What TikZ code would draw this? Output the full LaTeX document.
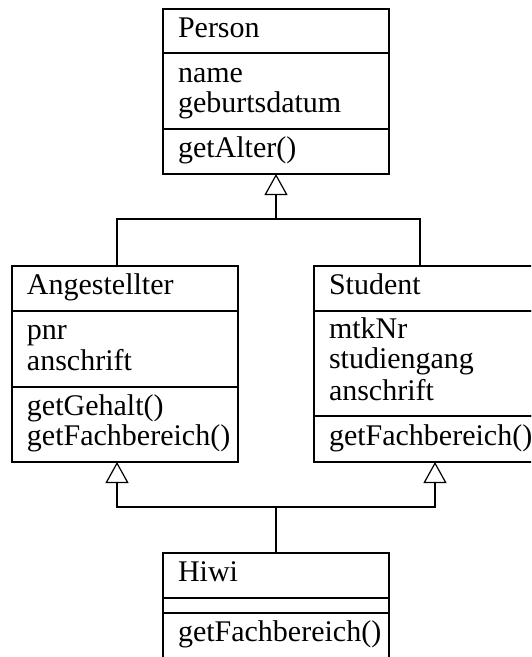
\documentclass[tikz,border=0pt]{standalone}
\usepackage{fontspec}
\setmainfont{Liberation Serif}
\usetikzlibrary{arrows.meta}
\begin{document}
\begin{tikzpicture}[x=1pt,y=-1pt,
  compbox/.style={draw, line width=1.2pt, anchor=north west, outer sep=0pt,
    minimum width=226pt, text width=196pt, inner xsep=15pt, inner ysep=0pt,
    align=left, font=\fontsize{30}{30}\selectfont},
  link/.style={draw, line width=1.2pt},
  gen/.style={link, -{Triangle[open, length=21pt, width=23pt, line width=1.2pt]}}]
\useasboundingbox (0,0) rectangle (531,657);
\fill[white] (0,0) rectangle (531,657);
\clip (0,0) rectangle (531,657);

% Person
\node[compbox, minimum height=44pt] (per-t) at (163,9) {\strut Person};
\node[compbox, minimum height=76pt] (per-a) at (per-t.south west) {\strut name\\\strut geburtsdatum};
\node[compbox, minimum height=45pt] (per-m) at (per-a.south west) {\strut getAlter()};

% Angestellter
\node[compbox, minimum height=45pt] (ang-t) at (12,266) {\strut Angestellter};
\node[compbox, minimum height=76pt] (ang-a) at (ang-t.south west) {\strut pnr\\\strut anschrift};
\node[compbox, minimum height=75pt] (ang-m) at (ang-a.south west) {\strut getGehalt()\\\strut getFachbereich()};

% Student
\node[compbox, minimum height=45pt] (stu-t) at (314,266) {\strut Student};
\node[compbox, minimum height=105pt] (stu-a) at (stu-t.south west) {\strut mtkNr\\\strut studiengang\\\strut anschrift};
\node[compbox, minimum height=46pt] (stu-m) at (stu-a.south west) {\strut getFachbereich()};

% Hiwi
\node[compbox, minimum height=45pt] (hiwi-t) at (163,553) {\strut Hiwi};
\node[compbox, minimum height=15pt] (hiwi-a) at (hiwi-t.south west) {};
\node[compbox, minimum height=45pt] (hiwi-m) at (hiwi-a.south west) {\strut getFachbereich()};

% attachment points of the inheritance lines
\path (per-m.south) ++(0,45) coordinate (j1);
\path (hiwi-t.north) ++(0,-46) coordinate (j2);
\path (ang-t.north west) ++(105,0) coordinate (ang-top);
\path (stu-t.north west) ++(106,0) coordinate (stu-top);
\path (ang-m.south west) ++(105,0) coordinate (ang-in);
\path (stu-m.south west) ++(121,0) coordinate (stu-in);

% generalisations
\draw[gen] (j1) -- (per-m.south);
\draw[link] (ang-top) |- (j1) -| (stu-top);
\draw[gen] (j2) -| (ang-in);
\draw[gen] (j2) -| (stu-in);
\draw[link] (hiwi-t.north) -- (j2);
\end{tikzpicture}
\end{document}
